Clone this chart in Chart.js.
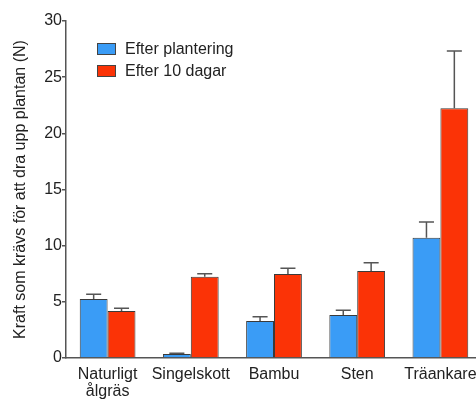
<!DOCTYPE html>
<html>
<head>
<meta charset="utf-8">
<script src="https://cdn.jsdelivr.net/npm/chart.js@4/dist/chart.umd.min.js"></script>
<style>
  html, body { margin: 0; padding: 0; background: #fff; overflow: hidden; }
  #wrap { width: 490px; height: 400px; }
</style>
</head>
<body>
<div id="wrap"><canvas id="c" width="490" height="400"></canvas></div>
<script>
// Pull-out force per anchoring method (N), mean and upper error
const categories = [["Naturligt", "ålgräs"], "Singelskott", "Bambu", "Sten", "Träankare"];
const seriesNames = ["Efter plantering", "Efter 10 dagar"];
const afterPlanting = [5.25, 0.36, 3.29, 3.83, 10.71];
const afterPlantingErr = [0.42, 0.06, 0.39, 0.41, 1.40];
const after10Days = [4.19, 7.24, 7.48, 7.75, 22.23];
const after10DaysErr = [0.24, 0.26, 0.50, 0.74, 5.11];
const yTicks = [0, 5, 10, 15, 20, 25, 30];

const FONT = "'Liberation Sans', Arial, sans-serif";
const AXIS = "#555";

// Upward error bars with a cap
const errorBars = {
  id: "errorBars",
  afterDatasetsDraw(chart) {
    const ctx = chart.ctx;
    const y = chart.scales.y;
    ctx.save();
    ctx.strokeStyle = "#555";
    ctx.lineWidth = 1.5;
    chart.data.datasets.forEach((ds, i) => {
      const meta = chart.getDatasetMeta(i);
      meta.data.forEach((bar, j) => {
        const top = y.getPixelForValue(ds.data[j] + ds.errors[j]);
        const base = y.getPixelForValue(ds.data[j]);
        const half = bar.width * 0.27;
        ctx.beginPath();
        ctx.moveTo(bar.x, base);
        ctx.lineTo(bar.x, top);
        ctx.moveTo(bar.x - half, top);
        ctx.lineTo(bar.x + half, top);
        ctx.stroke();
      });
    });
    ctx.restore();
  }
};

// Legend boxes drawn inside the plot area
const insideLegend = {
  id: "insideLegend",
  afterDraw(chart) {
    const ctx = chart.ctx;
    const a = chart.chartArea;
    ctx.save();
    ctx.font = "16px " + FONT;
    ctx.textBaseline = "middle";
    chart.data.datasets.forEach((ds, i) => {
      const x = a.left + 31, yTop = a.top + 22 + i * 22;
      ctx.fillStyle = ds.backgroundColor;
      ctx.fillRect(x, yTop, 19, 12);
      ctx.strokeStyle = "#444";
      ctx.lineWidth = 1;
      ctx.strokeRect(x + 0.5, yTop + 0.5, 18, 11);
      ctx.fillStyle = "#222";
      ctx.fillText(ds.label, x + 28, yTop + 6.5);
    });
    ctx.restore();
  }
};

new Chart(document.getElementById("c"), {
  type: "bar",
  data: {
    labels: categories,
    datasets: [
      { label: seriesNames[0], data: afterPlanting, errors: afterPlantingErr,
        backgroundColor: "#3a9cf6", borderColor: "#3a3a3a", borderWidth: 1 },
      { label: seriesNames[1], data: after10Days, errors: after10DaysErr,
        backgroundColor: "#fb3306", borderColor: "#3a3a3a", borderWidth: 1 }
    ]
  },
  options: {
    responsive: false,
    animation: false,
    events: [],
    layout: { padding: { top: 21, right: 8, left: 0, bottom: 0 } },
    datasets: { bar: { categoryPercentage: 0.67, barPercentage: 1.0 } },
    plugins: { legend: { display: false }, tooltip: { enabled: false } },
    scales: {
      x: {
        grid: { display: false, drawTicks: false },
        border: { display: true, color: AXIS, width: 1.5 },
        ticks: { color: "#222", font: { family: FONT, size: 16, lineHeight: 1.05 }, padding: 8, maxRotation: 0, autoSkip: false },
        afterFit(s) { s.height = 42; }
      },
      y: {
        min: 0, max: 30,
        afterBuildTicks(s) { s.ticks = yTicks.map(v => ({ value: v })); },
        grid: { display: true, drawOnChartArea: false, drawTicks: true, tickLength: 4, color: AXIS, lineWidth: 1.5 },
        border: { display: true, color: AXIS, width: 1.5 },
        ticks: { color: "#222", font: { family: FONT, size: 16 }, padding: 0 },
        title: { display: true, text: "Kraft som krävs för att dra upp plantan (N)", color: "#222",
                 font: { family: FONT, size: 16 }, padding: { top: 11, bottom: 4 } },
        afterFit(s) { s.width = 66; }
      }
    }
  },
  plugins: [errorBars, insideLegend]
});
</script>
</body>
</html>
